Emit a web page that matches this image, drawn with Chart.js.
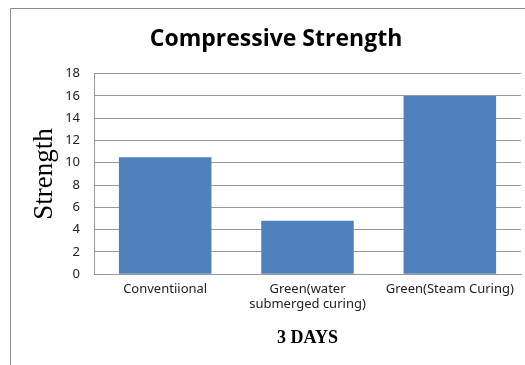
<!DOCTYPE html>
<html>
<head>
<meta charset="utf-8">
<script src="https://cdn.jsdelivr.net/npm/chart.js@4"></script>
<style>
  html, body { margin: 0; padding: 0; background: #fff; }
  #wrap { width: 525px; height: 365px; position: relative; }
</style>
</head>
<body>
<div id="wrap"><canvas id="strengthChart" width="525" height="365"></canvas></div>
<script>
const categories = ['Conventiional', ['Green(water', 'submerged curing)'], 'Green(Steam Curing)'];
const strengthValues = [10.5, 4.8, 16];
const yTicks = [0, 2, 4, 6, 8, 10, 12, 14, 16, 18];

const ctx = document.getElementById('strengthChart').getContext('2d');

// outer frame of the chart box
const framePlugin = {
  id: 'frame',
  beforeDraw(chart) {
    const c = chart.ctx;
    c.save();
    c.fillStyle = '#fff';
    c.fillRect(0, 0, chart.width, chart.height);
    c.strokeStyle = '#8a8a8a';
    c.lineWidth = 1;
    c.beginPath();
    c.moveTo(10.5, chart.height);
    c.lineTo(10.5, 8.5);
    c.lineTo(chart.width, 8.5);
    c.stroke();
    c.restore();
  }
};

let chart = new Chart(ctx, {
  type: 'bar',
  data: {
    labels: categories,
    datasets: [{
      label: 'Strength',
      data: strengthValues,
      backgroundColor: '#4f81bd',
      borderWidth: 0,
      barPercentage: 0.65,
      categoryPercentage: 1
    }]
  },
  options: {
    responsive: false,
    animation: false,
    layout: { padding: { left: 31, right: 4, top: 6, bottom: 12 } },
    plugins: {
      legend: { display: false },
      tooltip: { enabled: false },
      title: {
        display: true,
        text: 'Compressive Strength',
        color: '#000',
        font: { family: 'Open Sans', size: 23, weight: 'bold' },
        padding: { top: 20, bottom: 20 }
      }
    },
    scales: {
      x: {
        grid: { display: false, drawTicks: false },
        border: { color: '#999' },
        ticks: {
          color: '#222',
          font: { family: 'Noto Sans', size: 13 },
          maxRotation: 0,
          padding: 7
        },
        title: {
          display: true,
          text: '3 DAYS',
          color: '#000',
          font: { family: 'Liberation Serif', size: 18, weight: 'bold' },
          padding: { top: 8 }
        }
      },
      y: {
        min: 0,
        max: 18,
        afterBuildTicks(axis) {
          axis.ticks = yTicks.map(v => ({ value: v }));
        },
        afterFit(axis) {
          axis.width = 63;
        },
        grid: { color: '#999', drawTicks: false },
        border: { color: '#999' },
        ticks: {
          color: '#222',
          font: { family: 'Noto Sans', size: 13 },
          padding: 14
        },
        title: {
          display: true,
          text: 'Strength',
          color: '#000',
          font: { family: 'Liberation Serif', size: 27, lineHeight: 1 },
          padding: { top: 0, bottom: 0 }
        }
      }
    }
  },
  plugins: [framePlugin]
});
</script>
</body>
</html>
